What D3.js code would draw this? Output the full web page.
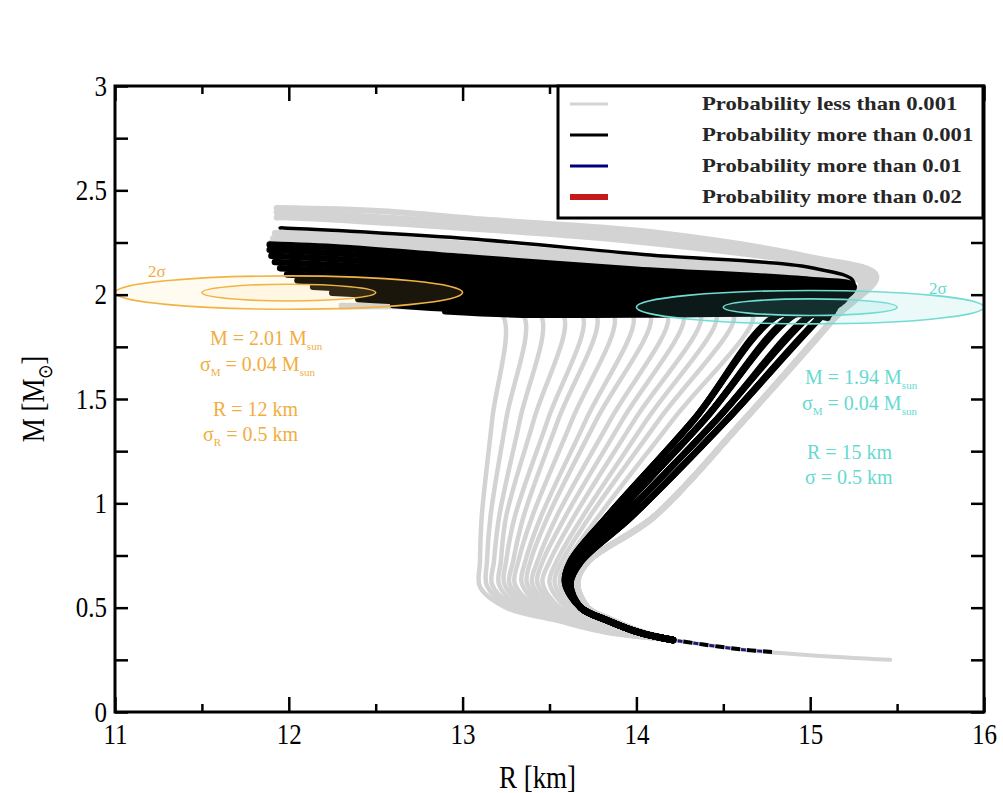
<!DOCTYPE html>
<html><head><meta charset="utf-8">
<script src="https://cdn.jsdelivr.net/npm/d3@7"></script>
<style>body{margin:0;background:#fff}svg{display:block}text{font-family:"Liberation Serif","Times New Roman",serif}</style>
</head><body><svg id="c" width="1003" height="793"></svg>
<script>
// ---------------- data ----------------
const xTicks = [11, 12, 13, 14, 15, 16];
const xMinor = [11.5, 12.5, 13.5, 14.5, 15.5];
const yTicks = [0, 0.5, 1, 1.5, 2, 2.5, 3];
const yMinor = [0.25, 0.75, 1.25, 1.75, 2.25, 2.75];

// shared low-mass crust tail [R km, M Msun]
const crustTail = [[15.46, 0.25], [15.0, 0.272], [14.6, 0.30], [14.21, 0.345]];
const blackTailDashes = [[14.78, 0.288], [14.6, 0.30], [14.21, 0.345]];

// gray fan curves (probability < 0.001), after the crust tail
const grayFan = [
  [[13.83,0.38],[13.53,0.44],[13.25,0.50],[13.10,0.60],[13.10,0.72],[13.11,0.935],[13.17,1.4],[13.23,1.9],[13.05,1.93],[12.3,1.94]],
  [[13.85,0.38],[13.55,0.44],[13.28,0.50],[13.14,0.605],[13.14,0.72],[13.16,0.935],[13.25,1.4],[13.35,1.9],[13.15,1.93],[12.3,1.945]],
  [[13.86,0.38],[13.57,0.44],[13.31,0.50],[13.17,0.61],[13.18,0.72],[13.21,0.935],[13.33,1.4],[13.45,1.9],[13.25,1.93],[12.3,1.95]],
  [[13.87,0.38],[13.60,0.44],[13.34,0.50],[13.21,0.61],[13.22,0.72],[13.25,0.935],[13.41,1.4],[13.58,1.9],[13.38,1.93],[12.4,1.95]],
  [[13.89,0.38],[13.62,0.44],[13.37,0.50],[13.24,0.615],[13.25,0.72],[13.30,0.935],[13.49,1.4],[13.69,1.9],[13.5,1.93],[12.4,1.955]],
  [[13.90,0.38],[13.64,0.44],[13.40,0.50],[13.27,0.615],[13.29,0.72],[13.35,0.935],[13.55,1.4],[13.77,1.9],[13.58,1.93],[12.5,1.955]],
  [[13.91,0.38],[13.65,0.44],[13.43,0.50],[13.30,0.615],[13.32,0.72],[13.40,0.935],[13.63,1.4],[13.87,1.9],[13.68,1.93],[12.5,1.96]],
  [[13.92,0.38],[13.68,0.44],[13.46,0.50],[13.34,0.62],[13.36,0.72],[13.45,0.935],[13.71,1.4],[13.98,1.9],[13.8,1.93],[12.6,1.96]],
  [[13.93,0.38],[13.70,0.44],[13.49,0.50],[13.37,0.62],[13.39,0.72],[13.49,0.935],[13.77,1.4],[14.08,1.9],[13.9,1.93],[12.6,1.965]],
  [[13.95,0.38],[13.71,0.44],[13.51,0.50],[13.40,0.62],[13.43,0.72],[13.54,0.935],[13.85,1.4],[14.18,1.9],[14.0,1.93],[12.7,1.965]],
  [[13.96,0.38],[13.73,0.44],[13.54,0.50],[13.43,0.62],[13.46,0.72],[13.59,0.935],[13.92,1.4],[14.27,1.9],[14.1,1.93],[12.7,1.97]],
  [[13.97,0.38],[13.75,0.44],[13.56,0.50],[13.46,0.62],[13.50,0.72],[13.64,0.935],[13.99,1.4],[14.37,1.9],[14.2,1.93],[12.8,1.97]],
  [[13.99,0.38],[13.78,0.44],[13.60,0.50],[13.50,0.62],[13.54,0.72],[13.69,0.935],[14.06,1.4],[14.46,1.9],[14.3,1.93],[12.8,1.975]],
  [[14.00,0.38],[13.79,0.44],[13.63,0.50],[13.53,0.62],[13.57,0.72],[13.73,0.935],[14.13,1.4],[14.56,1.9],[14.4,1.93],[12.9,1.975]],
  [[14.01,0.38],[13.81,0.44],[13.65,0.50],[13.56,0.62],[13.60,0.72],[13.78,0.935],[14.21,1.4],[14.67,1.9],[14.5,1.93],[12.9,1.98]]
];

// rising track right of the black bundle (gray, stiffest)
const grayRightTrack = [[14.04,0.38],[13.86,0.44],[13.72,0.50],[13.66,0.62],[13.72,0.72],[14.10,0.935],[14.62,1.4],[15.13,1.88]];
// upper high-mass branches of the gray stiff curves
const grayUpper = [
  [[15.38,2.09],[15.0,2.18],[14.08,2.30],[13.12,2.36],[12.54,2.40],[11.93,2.415]],
  [[15.37,2.088],[15.0,2.165],[14.0,2.28],[13.0,2.345],[12.0,2.395],[11.93,2.395]],
  [[15.36,2.085],[15.0,2.15],[14.0,2.255],[13.0,2.32],[12.0,2.37],[11.93,2.37]],
  [[15.33,2.08],[15.0,2.115],[14.0,2.175],[13.0,2.245],[12.0,2.295],[11.92,2.295]],
  [[15.31,2.07],[15.0,2.10],[14.0,2.16],[13.0,2.225],[12.0,2.27],[11.91,2.27]],
  [[15.29,2.06],[15.0,2.09],[14.0,2.145],[13.0,2.205],[12.0,2.25],[11.90,2.25]]
];

// black curves (probability > 0.001): lower branch, rising tracks, high-mass branches
const blackLower = [[14.21,0.345],[14.02,0.38],[13.83,0.44],[13.68,0.50]];
const blackTracks = [
  [[13.59,0.62],[13.62,0.72],[13.83,0.935],[14.33,1.4],[14.81,1.9]],
  [[13.60,0.62],[13.64,0.72],[13.87,0.935],[14.39,1.4],[14.90,1.9]],
  [[13.61,0.615],[13.66,0.72],[13.92,0.935],[14.46,1.4],[15.00,1.9]],
  [[13.62,0.615],[13.68,0.72],[13.97,0.935],[14.52,1.4],[15.07,1.9]]
];
const blackUpper = [
  [[15.10,1.890],[15.0,1.905],[14.0,1.905],[13.3,1.905],[12.90,1.920]],
  [[15.11,1.904],[15.0,1.920],[14.0,1.925],[13.0,1.930],[12.60,1.950]],
  [[15.13,1.917],[15.0,1.935],[14.0,1.944],[13.0,1.955],[12.40,1.979]],
  [[15.14,1.931],[15.0,1.950],[14.0,1.964],[13.0,1.980],[12.25,2.009]],
  [[15.15,1.945],[15.0,1.965],[14.0,1.983],[13.0,2.005],[12.14,2.038]],
  [[15.17,1.958],[15.0,1.980],[14.0,2.003],[13.0,2.030],[12.05,2.068]],
  [[15.18,1.972],[15.0,1.995],[14.0,2.022],[13.0,2.055],[12.3,2.084],[11.99,2.097]],
  [[15.20,1.985],[15.0,2.010],[14.0,2.042],[13.0,2.080],[12.3,2.112],[11.95,2.127]],
  [[15.21,1.999],[15.0,2.025],[14.0,2.061],[13.0,2.105],[12.3,2.140],[11.92,2.156]],
  [[15.22,2.013],[15.0,2.040],[14.0,2.081],[13.0,2.130],[12.3,2.169],[11.90,2.186]],
  [[15.24,2.026],[15.0,2.055],[14.0,2.100],[13.0,2.155],[12.3,2.197],[11.89,2.215]],
  [[15.25,2.040],[15.0,2.070],[14.0,2.120],[13.0,2.180],[12.3,2.225],[11.89,2.240]]
];
const blackTopLine = [[15.25,2.06],[15.0,2.13],[14.08,2.19],[12.93,2.275],[11.97,2.32],[11.95,2.32]];

// observational constraints: [R, M, sigmaR, sigmaM]
const obsLeft = {R: 12, M: 2.01, sR: 0.5, sM: 0.04};
const obsRight = {R: 15, M: 1.94, sR: 0.5, sM: 0.04};

const legendLabels = ["Probability less than 0.001", "Probability more than 0.001", "Probability more than 0.01", "Probability more than 0.02"];
const legendColors = ["#d4d4d4", "#000000", "#00007a", "#c41a1a"];
const legendWidths = [3, 3, 3, 6];

// ---------------- drawing ----------------
const svg = d3.select("#c");
const x = d3.scaleLinear().domain([11, 16]).range([115, 984]);
const y = d3.scaleLinear().domain([0, 3]).range([712, 86]);
const SY = 1.15; // vertical text stretch of the original figure

const line = d3.line().x(d => x(d[0])).y(d => y(d[1])).curve(d3.curveCatmullRom.alpha(0.5));
svg.append("defs").append("clipPath").attr("id", "clip")
  .append("rect").attr("x", 115).attr("y", 86).attr("width", 869).attr("height", 626);
const g = svg.append("g").attr("clip-path", "url(#clip)");

const GRAY = "#d3d3d3";
function path(pts, color, w, extra) {
  const p = g.append("path").attr("d", line(pts)).attr("fill", "none").attr("stroke", color)
    .attr("stroke-width", w).attr("stroke-linejoin", "round").attr("stroke-linecap", "round");
  if (extra) extra(p);
  return p;
}
// crust tail (thin, gray)
path(crustTail, GRAY, 4);
// gray fan
grayFan.forEach(c => path([crustTail[3]].concat(c), GRAY, 4.5));
// gray stiff curves
grayUpper.forEach(c => path(blackLower.slice(0, 1).concat(grayRightTrack, c), GRAY, 6));
// black curves
blackUpper.forEach((c, i) => path(blackLower.concat(blackTracks[i % 4], c), "#000", 6.5));
path(blackLower.concat(blackTracks[3], blackTopLine), "#000", 3.5);
// tail dashes (black / navy)
path(blackTailDashes, "#000", 4, p => p.attr("stroke-dasharray", "9,7").attr("stroke-linecap", "butt"));
path(blackTailDashes, "#1a1a78", 3, p => p.attr("stroke-dasharray", "5,11").attr("stroke-dashoffset", -10).attr("stroke-linecap", "butt"));

// constraint ellipses
function ellipses(o, stroke, fill) {
  [2, 1].forEach(k => {
    g.append("ellipse").attr("cx", x(o.R)).attr("cy", y(o.M))
      .attr("rx", x(o.R + k * o.sR) - x(o.R)).attr("ry", y(o.M) - y(o.M + k * o.sM))
      .attr("fill", fill).attr("stroke", stroke).attr("stroke-width", 1.6);
  });
}
ellipses(obsLeft, "#f0b445", "rgba(255,215,120,0.10)");
ellipses(obsRight, "#72dcd3", "rgba(90,215,205,0.12)");

// axes (inward ticks on all four sides)
function styleAxis(sel) {
  sel.select(".domain").remove();
  sel.selectAll("line").attr("stroke", "#000").attr("stroke-width", 2.5);
  sel.selectAll("text").attr("font-family", "Liberation Serif").attr("font-size", 25).attr("fill", "#000");
}
svg.append("g").attr("transform", "translate(0,712)").call(d3.axisBottom(x).tickValues(xTicks).tickSize(-15).tickPadding(10).tickFormat(d3.format("d"))).call(styleAxis)
  .selectAll("text").attr("transform", `scale(1,${SY})`);
svg.append("g").attr("transform", "translate(0,712)").call(d3.axisBottom(x).tickValues(xMinor).tickSize(-8).tickFormat("")).call(styleAxis);
svg.append("g").attr("transform", "translate(0,86)").call(d3.axisTop(x).tickValues(xTicks).tickSize(-15).tickFormat("")).call(styleAxis);
svg.append("g").attr("transform", "translate(0,86)").call(d3.axisTop(x).tickValues(xMinor).tickSize(-8).tickFormat("")).call(styleAxis);
svg.append("g").attr("transform", "translate(115,0)").call(d3.axisLeft(y).tickValues(yTicks).tickSize(-13).tickPadding(8).tickFormat(d3.format("~g"))).call(styleAxis)
  .selectAll("text").attr("transform", `scale(1,${SY})`);
svg.append("g").attr("transform", "translate(115,0)").call(d3.axisLeft(y).tickValues(yMinor).tickSize(-13).tickFormat("")).call(styleAxis);
svg.append("g").attr("transform", "translate(984,0)").call(d3.axisRight(y).tickValues(yTicks.concat(yMinor)).tickSize(-13).tickFormat("")).call(styleAxis);

svg.append("rect").attr("x", 115).attr("y", 86).attr("width", 869).attr("height", 626)
  .attr("fill", "none").attr("stroke", "#000").attr("stroke-width", 3);

// axis titles
svg.append("text").attr("transform", `translate(${(x(11) + x(16)) / 2 - 12},788) scale(1,${SY})`).attr("text-anchor", "middle")
  .attr("font-size", 27).text("R [km]");
const yt = svg.append("text").attr("transform", `translate(44,${y(1.5)}) rotate(-90) scale(1,${SY})`)
  .attr("text-anchor", "middle").attr("font-size", 27);
yt.append("tspan").text("M [M");
yt.append("tspan").attr("font-size", 17).attr("dy", 7).text("⊙");
yt.append("tspan").attr("dy", -7).text("]");

// annotations
function rich(xx, yy, parts, color, size) {
  const t = svg.append("text").attr("x", xx).attr("y", yy).attr("fill", color).attr("font-size", size);
  let shift = 0;
  parts.forEach(p => {
    const ts = t.append("tspan").text(p[0]);
    if (p[1] === "sub") { ts.attr("font-size", size * 0.55).attr("dy", 5 - shift); shift = 5; }
    else { ts.attr("dy", -shift); shift = 0; }
  });
  return t;
}
const OR = "#f2ad3e", CY = "#66d9d0";
rich(148, 277, [["2σ"]], OR, 17);
rich(210, 345, [["M = 2.01 M"], ["sun", "sub"]], OR, 20);
rich(200, 371, [["σ"], ["M", "sub"], [" = 0.04 M"], ["sun", "sub"]], OR, 20);
rich(213, 416, [["R = 12 km"]], OR, 20);
rich(203, 441, [["σ"], ["R", "sub"], [" = 0.5 km"]], OR, 20);

rich(929, 294, [["2σ"]], CY, 17);
rich(805, 384, [["M = 1.94 M"], ["sun", "sub"]], CY, 20);
rich(802, 410, [["σ"], ["M", "sub"], [" = 0.04 M"], ["sun", "sub"]], CY, 20);
rich(807, 459, [["R = 15 km"]], CY, 20);
rich(805, 484, [["σ = 0.5 km"]], CY, 20);

// legend
const lg = svg.append("g");
lg.append("rect").attr("x", 558).attr("y", 86).attr("width", 425).attr("height", 132)
  .attr("fill", "#fff").attr("stroke", "#000").attr("stroke-width", 3);
legendLabels.forEach((lab, i) => {
  const yy = 104 + i * 31;
  lg.append("line").attr("x1", 570).attr("x2", 608).attr("y1", yy).attr("y2", yy)
    .attr("stroke", legendColors[i]).attr("stroke-width", legendWidths[i]);
  lg.append("text").attr("transform", `translate(702,${yy + 6}) scale(1.26,1)`).attr("font-size", 18).attr("font-weight", "bold")
    .attr("fill", "#262626").text(lab);
});
</script></body></html>
